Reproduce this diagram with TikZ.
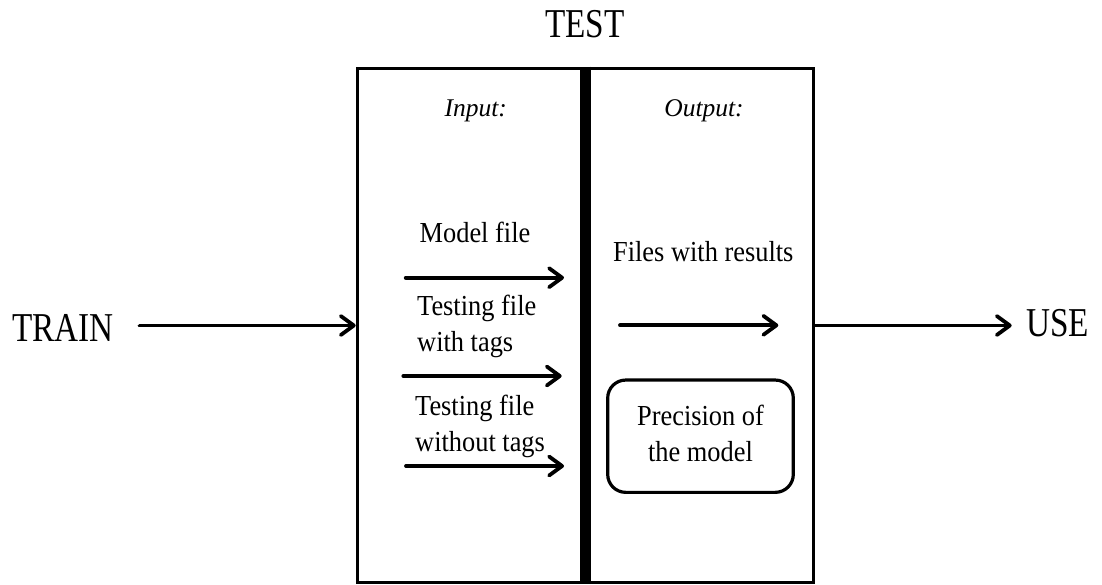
\documentclass[tikz,border=0pt]{standalone}
\usepackage{fontspec}
\setmainfont{Liberation Serif}
\newfontfamily\bigserif[FakeStretch=0.81]{Liberation Serif}
\newfontfamily\smallserif[FakeStretch=0.91]{Liberation Serif}
\usetikzlibrary{arrows.meta}

\begin{document}
\begin{tikzpicture}[x=1pt,y=-1pt,
  bigtxt/.style={font=\bigserif\fontsize{41}{45}\selectfont, inner sep=0pt},
  smalltxt/.style={font=\smallserif\fontsize{29}{36}\selectfont, inner sep=0pt},
  headtxt/.style={font=\fontsize{25.5}{30}\selectfont\itshape, inner sep=0pt},
  arr/.style={line width=3.8pt, line cap=round,
    -{Straight Barb[length=13pt,width=19pt,line cap=round,line join=round]}},
  frame/.style={draw, line width=3.2pt, inner sep=0pt},
]
\useasboundingbox (0,0) rectangle (1102,584);

% the TEST block and its divider
\node[frame, minimum width=456pt, minimum height=514.4pt] (test) at (585.3,325.5) {};
\draw[line width=10.5pt] (test.north) -- (test.south);

% titles
\node[bigtxt, anchor=base] (testlbl) at (585,37.3) {TEST};
\node[bigtxt, anchor=base west] (train) at (12,341) {TRAIN};
\node[bigtxt, anchor=base west] (use) at (1026,336.7) {USE};
\node[headtxt, anchor=base] (inlbl) at (475.8,116.7) {Input:};
\node[headtxt, anchor=base] (outlbl) at (704,116.7) {Output:};

% input side
\node[smalltxt, anchor=base] (model) at (475,242.7) {Model file};
\node[smalltxt, anchor=base west] (tagged) at (417,315)
  {\begin{tabular}[t]{@{}l@{}}Testing file\\with tags\end{tabular}};
\node[smalltxt, anchor=base west] (untagged) at (415,415.7)
  {\begin{tabular}[t]{@{}l@{}}Testing file\\without tags\end{tabular}};

% output side
\node[smalltxt, anchor=base] (results) at (703.3,261.7) {Files with results};
\node[smalltxt, frame, rounded corners=18pt, minimum width=185.6pt,
      minimum height=112.3pt] (precision) at (700.5,436.2)
  {\raisebox{-2.5pt}{\begin{tabular}{@{}c@{}}Precision of\\the model\end{tabular}}};

% arrow ends
\coordinate (modelS) at (405.7,277.7);   \coordinate (modelE) at (564,277.7);
\coordinate (taggedS) at (403.3,376);    \coordinate (taggedE) at (561.7,376);
\coordinate (untaggedS) at (406,466);    \coordinate (untaggedE) at (564,466);
\coordinate (resultsS) at (620,325.3);   \coordinate (resultsE) at (778.3,325.3);

\draw[arr] (modelS) -- (modelE);
\draw[arr] (taggedS) -- (taggedE);
\draw[arr] (untaggedS) -- (untaggedE);
\draw[arr] (resultsS) -- (resultsE);

% flow through the block
\draw[arr, shorten <=25.7pt] (train.east |- test.west) -- (test.west);
\draw[arr, shorten >=14.3pt] (test.east) -- (use.west |- test.east);
\end{tikzpicture}
\end{document}
